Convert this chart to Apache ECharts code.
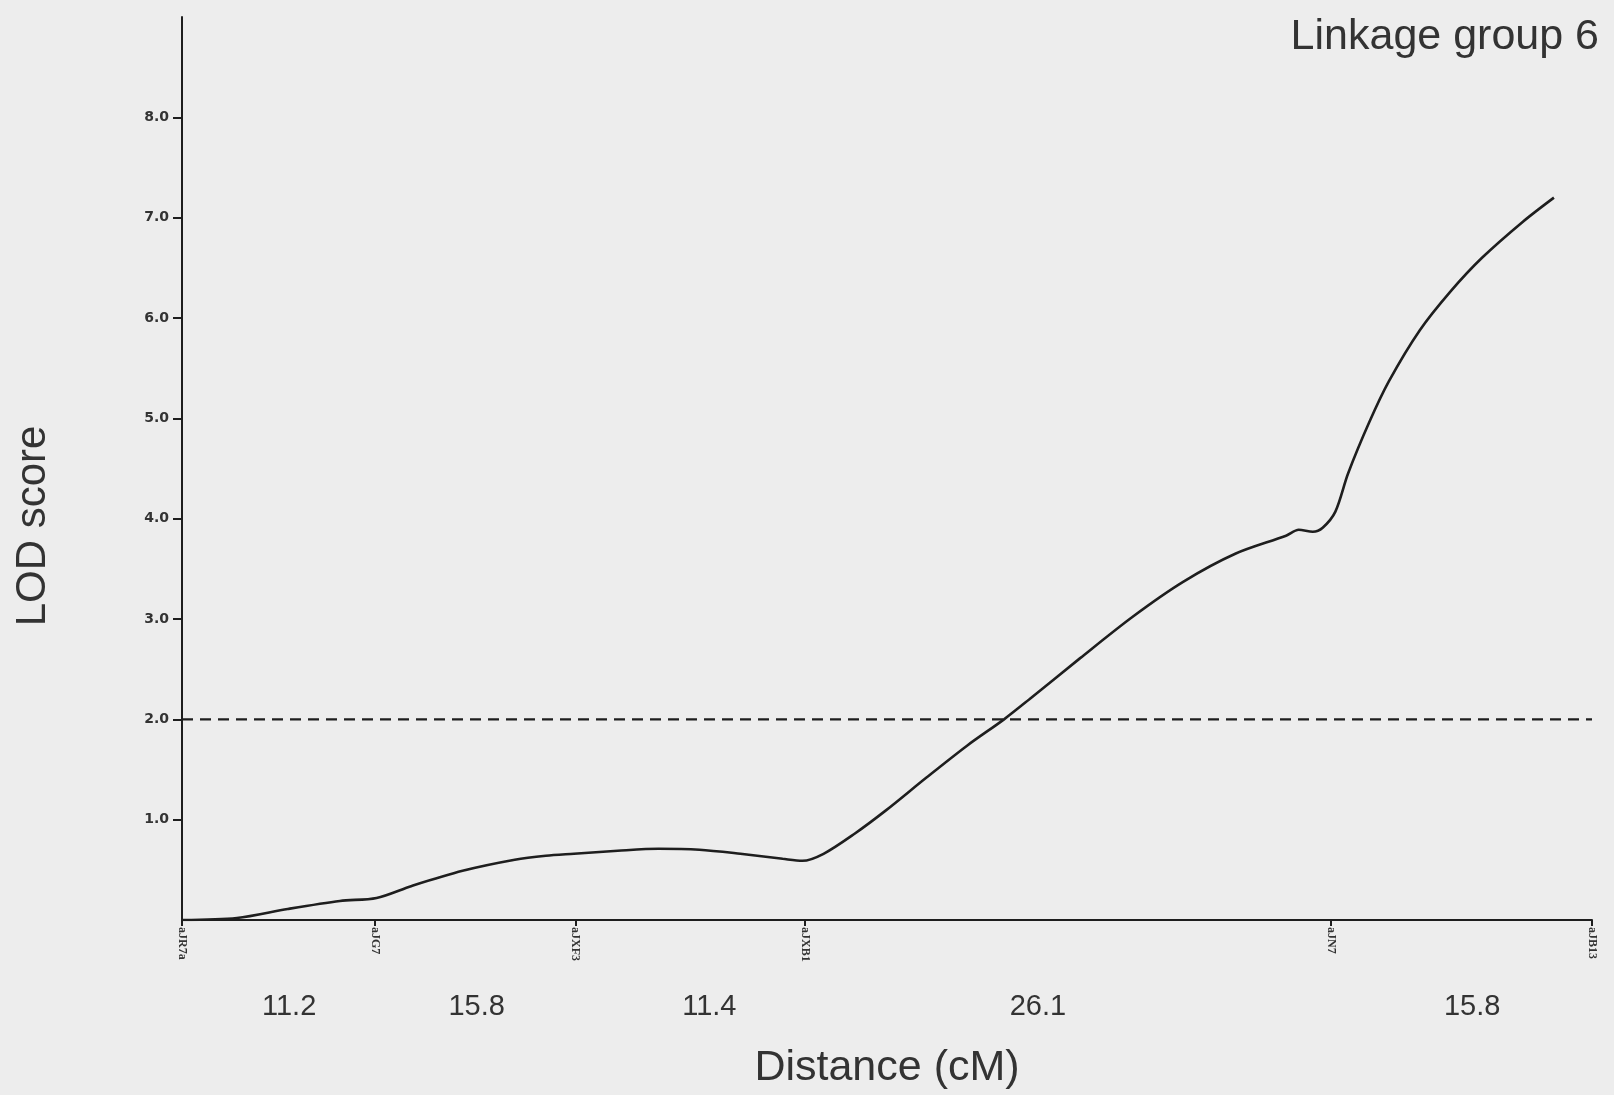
<!DOCTYPE html>
<html>
<head>
<meta charset="utf-8">
<title>Linkage group 6 – LOD profile</title>
<script src="https://cdn.jsdelivr.net/npm/echarts@6/dist/echarts.min.js"></script>
<style>
  html, body { margin: 0; padding: 0; background: #ededed; }
  #chart { width: 1614px; height: 1095px; }
</style>
</head>
<body>
<div id="chart"></div>
<script>
// Markers along the linkage group and their positions on the map axis (0–100 of group length)
const markers = ['aJR7a', 'aJG7', 'aJXF3', 'aJXB1', 'aJN7', 'aJB13'];
const markerPos = [0, 13.7, 27.9, 44.2, 81.5, 100];

// Interval distances between adjacent markers (cM) and where each is written
const spanCM = [11.2, 15.8, 11.4, 26.1, 15.8];
const spanLabelPos = [7.6, 20.9, 37.4, 60.7, 91.5];

// LOD profile along the group
const lodX = [0, 3.9, 7.5, 11.2, 13.8, 16.3, 19.9, 23.6, 25.8, 27.8, 30.9, 33.8, 36.7, 39.6,
              42.6, 44.0, 45.5, 47.7, 49.9, 52.8, 55.7, 58.3, 60.1, 63.7, 67.4, 71.0, 74.7,
              78.3, 79.2, 80.2, 80.9, 81.8, 82.7, 84.2, 85.6, 87.8, 90.0, 92.2, 95.1, 97.3];
const lodY = [0, 0.02, 0.11, 0.19, 0.22, 0.34, 0.49, 0.60, 0.64, 0.66, 0.69, 0.71, 0.70, 0.66,
              0.61, 0.59, 0.66, 0.86, 1.09, 1.42, 1.74, 2.00, 2.20, 2.61, 3.02, 3.37, 3.65,
              3.83, 3.89, 3.87, 3.91, 4.07, 4.45, 4.96, 5.37, 5.88, 6.27, 6.60, 6.96, 7.20];

// Significance threshold and LOD tick values
const threshold = 2.0;
const lodTicks = [1, 2, 3, 4, 5, 6, 7, 8];

const ink = '#1e1e1e';
const textInk = '#333333';

function lookup(values, labels, v) {
  for (let i = 0; i < values.length; i++) {
    if (Math.abs(values[i] - v) < 1e-6) return labels[i];
  }
  return '';
}

const chart = echarts.init(document.getElementById('chart'), null, { renderer: 'canvas' });

chart.setOption({
  backgroundColor: '#ededed',
  animation: false,
  title: {
    text: 'Linkage group 6',
    right: 10,
    top: 11,
    textStyle: { fontFamily: 'Liberation Sans', fontSize: 43, fontWeight: 'normal', color: textInk }
  },
  grid: { left: 182, right: 22, top: 17, bottom: 174, containLabel: false },
  xAxis: [
    {
      type: 'value',
      min: 0,
      max: 100,
      splitLine: { show: false },
      axisLine: { show: true, lineStyle: { color: ink, width: 2 } },
      axisTick: { show: true, customValues: markerPos, length: 6, lineStyle: { color: ink, width: 2 } },
      axisLabel: {
        show: true,
        customValues: markerPos,
        rotate: -90,
        margin: 7,
        fontFamily: 'Liberation Serif',
        fontWeight: 'bold',
        fontSize: 12,
        color: textInk,
        formatter: v => lookup(markerPos, markers, v)
      },
      name: 'Distance (cM)',
      nameLocation: 'middle',
      nameGap: 127,
      nameTextStyle: { fontFamily: 'Liberation Sans', fontSize: 43, color: textInk }
    },
    {
      type: 'value',
      min: 0,
      max: 100,
      position: 'bottom',
      offset: 64,
      splitLine: { show: false },
      axisLine: { show: false },
      axisTick: { show: false },
      axisLabel: {
        show: true,
        customValues: spanLabelPos,
        margin: 8,
        fontFamily: 'Liberation Sans',
        fontSize: 29,
        color: textInk,
        formatter: v => lookup(spanLabelPos, spanCM, v).toFixed(1)
      }
    }
  ],
  yAxis: {
    type: 'value',
    min: 0,
    max: 9,
    splitLine: { show: false },
    axisLine: { show: true, lineStyle: { color: ink, width: 2 } },
    axisTick: { show: true, customValues: lodTicks, length: 9, lineStyle: { color: ink, width: 2 } },
    axisLabel: {
      show: true,
      customValues: lodTicks,
      margin: 13,
      fontFamily: 'DejaVu Sans',
      fontWeight: 'bold',
      fontSize: 14,
      color: textInk,
      formatter: v => v.toFixed(1)
    }
  },
  graphic: [
    {
      type: 'text',
      x: 33,
      y: 526,
      rotation: Math.PI / 2,
      style: {
        text: 'LOD score',
        fontFamily: 'Liberation Sans',
        fontSize: 42,
        fill: textInk,
        align: 'center',
        verticalAlign: 'middle'
      }
    }
  ],
  series: [
    {
      name: 'LOD',
      type: 'line',
      xAxisIndex: 0,
      data: lodX.map((x, i) => [x, lodY[i]]),
      smooth: 0.3,
      showSymbol: false,
      lineStyle: { color: ink, width: 2.6 },
      silent: true,
      z: 3
    },
    {
      name: 'threshold',
      type: 'line',
      xAxisIndex: 0,
      data: [[0, threshold], [100, threshold]],
      showSymbol: false,
      silent: true,
      lineStyle: { color: ink, width: 2.4, type: [11, 7] },
      z: 2
    }
  ]
});
</script>
</body>
</html>
